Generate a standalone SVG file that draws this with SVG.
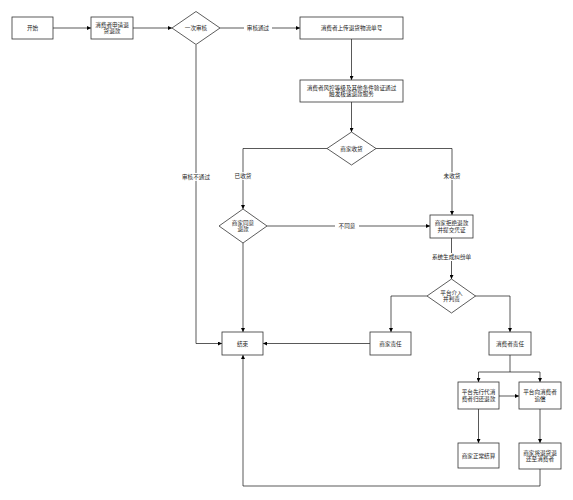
<svg xmlns="http://www.w3.org/2000/svg" width="573" height="500" viewBox="0 0 573 500">
<defs>
<marker id="ah" viewBox="0 0 10 10" refX="10" refY="5" markerWidth="4" markerHeight="4" orient="auto" markerUnits="userSpaceOnUse">
<path d="M0,0 L10,5 L0,10 z" fill="#000"/>
</marker>
<style>
.n rect,.n polygon{fill:#fff;stroke:#333;stroke-width:0.8}
text{font-family:"Noto Sans CJK SC","Noto Sans",sans-serif;font-size:5.6px;fill:#222;text-anchor:middle;dominant-baseline:central}
.c path{fill:none;stroke:#111;stroke-width:0.7}
.c .a{marker-end:url(#ah)}
.lb{fill:#fff;stroke:none}
</style>
</defs>
<rect width="573" height="500" fill="#fff"/>
<g class="c" id="connectors">
<path class="a" d="M53,28 H91"/>
<path class="a" d="M133,28 H172"/>
<path class="a" d="M220,28 H300"/>
<path class="a" d="M351.5,39 V80"/>
<path class="a" d="M351.5,102 V132"/>
<path class="a" d="M327,148.5 H243 V209"/>
<path class="a" d="M376,148.5 H452 V215"/>
<path class="a" d="M267,226 H430"/>
<path class="a" d="M243,243 V332"/>
<path class="a" d="M196,45 V343.5 H222"/>
<path class="a" d="M451.5,238 V279"/>
<path class="a" d="M427,296 H391 V332"/>
<path class="a" d="M475,296 H510 V332"/>
<path class="a" d="M370,343.5 H263"/>
<path class="a" d="M510,355 V372 H478.5 V382"/>
<path class="a" d="M510,372 H540 V382"/>
<path class="a" d="M499,396 H519"/>
<path class="a" d="M478.5,409 V443"/>
<path class="a" d="M540,409 V443"/>
<path class="a" d="M540,469 V486 H243 V355"/>
<rect class="lb" x="244" y="24" width="28" height="8"/>
<text x="258" y="28">审核通过</text>
<rect class="lb" x="233" y="172" width="20" height="8"/>
<text x="243" y="176">已收货</text>
<rect class="lb" x="442" y="172" width="20" height="8"/>
<text x="452" y="176">未收货</text>
<rect class="lb" x="335" y="222" width="24" height="8"/>
<text x="347" y="226">不同意</text>
<rect class="lb" x="181" y="173" width="30" height="8"/>
<text x="196" y="177">审核不通过</text>
<rect class="lb" x="430" y="253" width="43" height="8"/>
<text x="451.5" y="257">系统生成纠纷单</text>
</g>
<g class="n" id="start"><rect x="12" y="17" width="41" height="22"/><text x="32.5" y="28">开始</text></g>
<g class="n" id="apply"><rect x="91" y="17" width="42" height="22"/><text x="112" y="24.7">消费者申请退</text><text x="112" y="31.4">货退款</text></g>
<g class="n" id="review"><polygon points="172,28 196,11.5 220,28 196,44.5"/><text x="196" y="28">一次审核</text></g>
<g class="n" id="upload"><rect x="300" y="17" width="103" height="22"/><text x="351.5" y="28">消费者上传退货物流单号</text></g>
<g class="n" id="risk"><rect x="300" y="80" width="103" height="22"/><text x="351.5" y="87.7">消费者风控等级及其他条件验证通过</text><text x="351.5" y="94.4">触发极速退款服务</text></g>
<g class="n" id="receive"><polygon points="327,148.5 351.5,132 376,148.5 351.5,165"/><text x="351.5" y="148.5">商家收货</text></g>
<g class="n" id="agree"><polygon points="219,226 243,209 267,226 243,243"/><text x="243" y="222.7">商家同意</text><text x="243" y="229.4">退款</text></g>
<g class="n" id="reject"><rect x="430" y="215" width="43" height="23"/><text x="451.5" y="223.2">商家拒绝退款</text><text x="451.5" y="229.9">并提交凭证</text></g>
<g class="n" id="judge"><polygon points="427,296 451.5,279 475.5,296 451.5,313"/><text x="451.5" y="292.7">平台介入</text><text x="451.5" y="299.4">并判责</text></g>
<g class="n" id="end"><rect x="222" y="332" width="41" height="23"/><text x="242.5" y="343.5">结束</text></g>
<g class="n" id="merchant"><rect x="370" y="332" width="41" height="23"/><text x="390.5" y="343.5">商家责任</text></g>
<g class="n" id="consumer"><rect x="489" y="332" width="42" height="23"/><text x="510" y="343.5">消费者责任</text></g>
<g class="n" id="advance"><rect x="458" y="382" width="41" height="27"/><text x="478.5" y="392.2">平台先行代消</text><text x="478.5" y="398.9">费者归还退款</text></g>
<g class="n" id="recover"><rect x="519" y="382" width="42" height="27"/><text x="540" y="392.2">平台向消费者</text><text x="540" y="398.9">追偿</text></g>
<g class="n" id="settle"><rect x="458" y="443" width="41" height="25"/><text x="478.5" y="455.5">商家正常结算</text></g>
<g class="n" id="returngoods"><rect x="519" y="443" width="42" height="26"/><text x="540" y="452.7">商家将退货退</text><text x="540" y="459.4">还至消费者</text></g>
</svg>
